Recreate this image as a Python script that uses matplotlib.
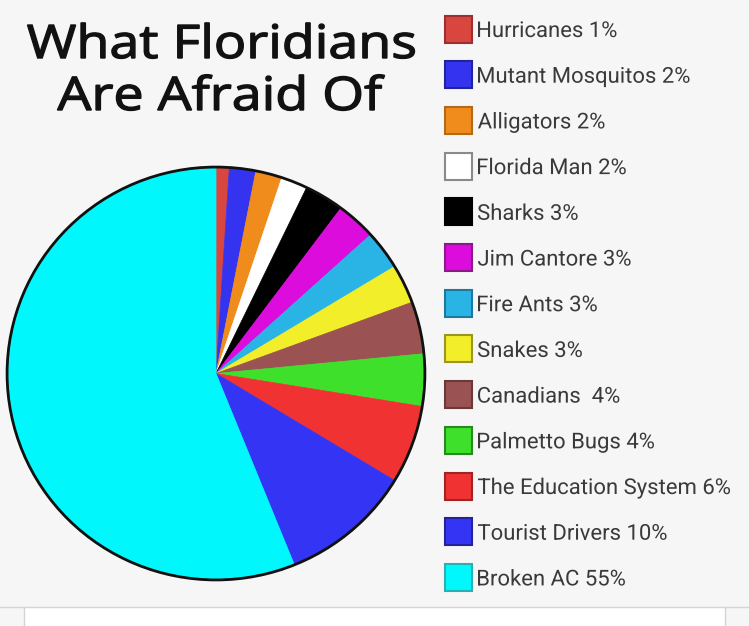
import matplotlib.pyplot as plt
from matplotlib.patches import Rectangle, Ellipse, PathPatch
from matplotlib.textpath import TextPath
from matplotlib.font_manager import FontProperties
from matplotlib.transforms import Affine2D

# data (top of pie, going clockwise)
labels = ['Hurricanes', 'Mutant Mosquitos', 'Alligators', 'Florida Man', 'Sharks',
          'Jim Cantore', 'Fire Ants', 'Snakes', 'Canadians ', 'Palmetto Bugs',
          'The Education System', 'Tourist Drivers', 'Broken AC']
values = [1, 2, 2, 2, 3, 3, 3, 3, 4, 4, 6, 10, 55]
colors = ['#d9453f', '#3434f0', '#f08c1c', '#ffffff', '#000000', '#dc0cdc', '#2ab4e6',
          '#f2ee2a', '#9a5252', '#3ee02c', '#f03232', '#3434f4', '#00f8fc']
edge_colors = ['#9a3030', '#22229a', '#b06a18', '#8a8a8a', '#000000', '#8a1a8a', '#1a7aa0',
               '#9a9620', '#6a3a3a', '#2a8a22', '#a02424', '#22229a', '#2ab0b0']
title_lines = ['What Floridians', 'Are Afraid Of']

W, H = 749, 626
fig = plt.figure(figsize=(W / 100, H / 100), dpi=100)
fig.patch.set_facecolor('#f6f6f6')

# overlay axes in pixel coords (y down)
bg = fig.add_axes([0, 0, 1, 1])
bg.set_xlim(0, W)
bg.set_ylim(H, 0)
bg.axis('off')


def cap_of(prop):
    return TextPath((0, 0), 'H', size=1, prop=prop).get_extents().height


def path_text(ax, s, x, base, cap, prop, sx=1.0, ha='left', color='k', stroke=0):
    """text as a path so it can be squeezed / stretched sideways"""
    tp = TextPath((0, 0), s, size=1, prop=prop)
    ext = tp.get_extents()
    k = cap / cap_of(prop)
    w = ext.width * k * sx
    x0 = x if ha == 'left' else x - w / 2
    tr = Affine2D().translate(-ext.x0, 0).scale(k * sx, -k).translate(x0, base)
    ax.add_patch(PathPatch(tp, transform=tr + ax.transData, facecolor=color,
                           edgecolor=color, lw=stroke))
    return w


# bottom white strip like a cropped screenshot
bg.add_patch(Rectangle((24, 607), 701, 30, facecolor='white', edgecolor='none'))
bg.plot([0, W], [607, 607], color='#d4d4d4', lw=1)
bg.plot([24, 24], [607, H], color='#d4d4d4', lw=1)
bg.plot([725, 725], [607, H], color='#d4d4d4', lw=1)

# title
tprop = FontProperties(family='Open Sans', weight='normal')
tp1 = TextPath((0, 0), title_lines[0], size=1, prop=tprop).get_extents().width
t_sx = 387 / (tp1 * 33 / cap_of(tprop))
for line, base in zip(title_lines, [58, 110]):
    path_text(bg, line, 221, base, 33, tprop, sx=t_sx, ha='center', color='#111111',
              stroke=1.0)

# legend
lprop = FontProperties(family='Roboto')
widest = f'{labels[10]} {values[10]}%'
lw_ = TextPath((0, 0), widest, size=1, prop=lprop).get_extents().width
l_sx = 252 / (lw_ * 15.5 / cap_of(lprop))
row0, step = 29, 45.7
for i, (lab, val, c, ec) in enumerate(zip(labels, values, colors, edge_colors)):
    y = row0 + i * step
    bg.add_patch(Rectangle((445, y - 13.5), 27, 27, facecolor=c, edgecolor=ec, lw=1.5))
    path_text(bg, f'{lab} {val}%', 478, y + 8, 15.5, lprop, sx=l_sx, color='#3a3a3a')

# pie
left, top, pw, ph = 5, 165, 422, 417
ax = fig.add_axes([left / W, 1 - (top + ph) / H, pw / W, ph / H])
wedges, _ = ax.pie(values, colors=colors, startangle=90, counterclock=False, radius=1)
for w, c in zip(wedges, colors):
    w.set_edgecolor(c)
    w.set_linewidth(0.5)
ax.add_patch(Ellipse((0, 0), 2, 2, facecolor='none', edgecolor='#111111', lw=2))
ax.set_aspect('auto')
ax.set_xlim(-1.01, 1.01)
ax.set_ylim(-1.01, 1.01)
ax.axis('off')

fig.savefig('out.png', dpi=100, facecolor=fig.get_facecolor())
